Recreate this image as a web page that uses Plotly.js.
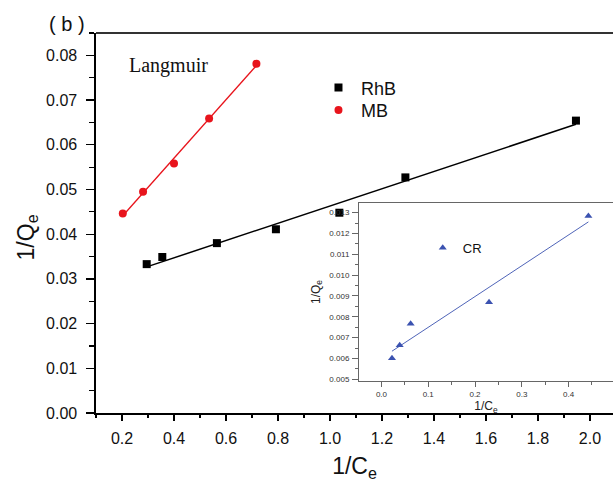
<!DOCTYPE html>
<html>
<head>
<meta charset="utf-8">
<script src="https://cdn.plot.ly/plotly-3.0.1.min.js"></script>
<style>html,body{margin:0;padding:0;background:#fff;}#chart{width:613px;height:482px;}</style>
</head>
<body>
<div id="chart"></div>
<script>
// ---- data ----
const rhbX = [0.295, 0.355, 0.565, 0.792, 1.036, 1.29, 1.946];
const rhbY = [0.0333, 0.0349, 0.0380, 0.0411, 0.0448, 0.0527, 0.0654];
const mbX = [0.203, 0.281, 0.400, 0.535, 0.717];
const mbY = [0.0446, 0.0495, 0.0558, 0.0659, 0.0781];
const crX = [0.0225, 0.039, 0.0624, 0.230, 0.4424];
const crY = [0.00601, 0.00663, 0.00767, 0.00870, 0.01284];
const seriesNames = ["RhB", "MB", "CR"];

// least-squares linear fit over the data range
function fitLine(xs, ys) {
  const n = xs.length;
  const mx = xs.reduce((a, b) => a + b, 0) / n;
  const my = ys.reduce((a, b) => a + b, 0) / n;
  let sxy = 0, sxx = 0;
  for (let i = 0; i < n; i++) { sxy += (xs[i] - mx) * (ys[i] - my); sxx += (xs[i] - mx) ** 2; }
  const k = sxy / sxx, b = my - k * mx;
  const x0 = Math.min(...xs), x1 = Math.max(...xs);
  return { x: [x0, x1], y: [k * x0 + b, k * x1 + b] };
}
const rhbFit = fitLine(rhbX, rhbY);
const mbFit = fitLine(mbX, mbY);
const crFit = fitLine(crX, crY);

const FONT = "Arial, 'Liberation Sans', sans-serif";

const traces = [
  { x: rhbFit.x, y: rhbFit.y, mode: "lines", line: { color: "#000", width: 1.5 }, showlegend: false, hoverinfo: "skip" },
  { x: mbFit.x, y: mbFit.y, mode: "lines", line: { color: "#e8141c", width: 1.3 }, showlegend: false, hoverinfo: "skip" },
  { x: rhbX, y: rhbY, name: seriesNames[0], legend: "legend", mode: "markers", marker: { symbol: "square", size: 8, color: "#000" } },
  { x: mbX, y: mbY, name: seriesNames[1], legend: "legend2", mode: "markers", marker: { symbol: "circle", size: 8, color: "#e8141c" } },
  { x: crFit.x, y: crFit.y, xaxis: "x2", yaxis: "y2", mode: "lines", line: { color: "#3b52b0", width: 0.9 }, showlegend: false, hoverinfo: "skip" },
  { x: crX, y: crY, xaxis: "x2", yaxis: "y2", name: seriesNames[2], legend: "legend3", mode: "markers",
    marker: { symbol: "triangle-up", size: 7, color: "#3b52b0" } }
];

const legendBase = { xanchor: "left", yanchor: "top", bgcolor: "rgba(0,0,0,0)", borderwidth: 0 };

const layout = {
  width: 613, height: 482,
  margin: { l: 96, r: 0, t: 33, b: 69 },
  paper_bgcolor: "#fff", plot_bgcolor: "#fff",
  font: { family: FONT, color: "#111" },
  xaxis: {
    range: [0.1, 2.0885], dtick: 0.2, tick0: 0, tickformat: ".1f",
    showgrid: false, zeroline: false, showline: true, linecolor: "#000", linewidth: 1.6,
    ticks: "outside", ticklen: 6, tickwidth: 1.3, tickcolor: "#000",
    minor: { dtick: 0.1, ticks: "outside", ticklen: 3.5, tickwidth: 1.2, tickcolor: "#000" },
    tickfont: { size: 16, family: FONT, color: "#111" }, ticklabelstandoff: 4,
    title: { text: "1/C<sub>e</sub>", font: { size: 23, family: FONT, color: "#111" }, standoff: 15 },
    automargin: false
  },
  yaxis: {
    range: [0, 0.085], dtick: 0.01, tickformat: ".2f",
    showgrid: false, zeroline: false, showline: true, linecolor: "#000", linewidth: 1.6,
    ticks: "outside", ticklen: 8, tickwidth: 1.3, tickcolor: "#000",
    minor: { dtick: 0.005, ticks: "outside", ticklen: 5, tickwidth: 1.2, tickcolor: "#000" },
    tickfont: { size: 16, family: FONT, color: "#111" }, ticklabelstandoff: 6,
    automargin: false
  },
  xaxis2: {
    domain: [0.5087, 1], anchor: "y2",
    range: [-0.048, 0.495], dtick: 0.1, tick0: 0, tickformat: ".1f",
    showgrid: false, zeroline: false, showline: true, mirror: true, linecolor: "#666", linewidth: 1,
    ticks: "outside", ticklen: 5, tickwidth: 1, tickcolor: "#666",
    minor: { dtick: 0.05, ticks: "outside", ticklen: 3, tickwidth: 1, tickcolor: "#666" },
    tickfont: { size: 8, family: FONT, color: "#333" }, ticklabelstandoff: 1,
    title: { text: "1/C<sub>e</sub>", font: { size: 12, family: FONT, color: "#222" }, standoff: 3 },
    automargin: false
  },
  yaxis2: {
    domain: [0.085, 0.5518], anchor: "x2",
    range: [0.00493, 0.01345], dtick: 0.001, tick0: 0, tickformat: ".3f",
    showgrid: false, zeroline: false, showline: true, linecolor: "#666", linewidth: 1,
    ticks: "outside", ticklen: 6, tickwidth: 1, tickcolor: "#666",
    minor: { dtick: 0.0005, ticks: "outside", ticklen: 3, tickwidth: 1, tickcolor: "#666" },
    tickfont: { size: 8, family: FONT, color: "#333" }, ticklabelstandoff: 1,
    title: { text: "1/Q<sub>e</sub>", font: { size: 12, family: FONT, color: "#222" }, standoff: 6 },
    automargin: false
  },
  legend: Object.assign({}, legendBase, { x: 0.4255, y: 0.9045, itemwidth: 35, font: { size: 18, family: FONT, color: "#111" } }),
  legend2: Object.assign({}, legendBase, { x: 0.4255, y: 0.8455, itemwidth: 35, font: { size: 18, family: FONT, color: "#111" } }),
  legend3: Object.assign({}, legendBase, { x: 0.632, y: 0.4745, font: { size: 13, family: FONT, color: "#111" } }),
  shapes: [
    { type: "line", xref: "paper", yref: "paper", x0: 0, x1: 1, y0: 1, y1: 1, line: { color: "#333", width: 2 } }
  ],
  annotations: [
    { text: "1/Q<sub>e</sub>", xref: "paper", yref: "paper", x: -0.1335, y: 0.462, xanchor: "center", yanchor: "middle",
      textangle: -90, showarrow: false, font: { family: FONT, size: 23, color: "#111" } },
    { text: "Langmuir", xref: "paper", yref: "paper", x: 0.1402, y: 0.914, xanchor: "center", yanchor: "middle",
      showarrow: false, font: { family: "'Liberation Serif', 'Times New Roman', serif", size: 20, color: "#111" } },
    { text: "( b )", xref: "paper", yref: "paper", x: -0.057, y: 1.0237, xanchor: "center", yanchor: "middle",
      showarrow: false, font: { family: FONT, size: 20, color: "#111" } }
  ],
  showlegend: true
};

Plotly.newPlot("chart", traces, layout, { displayModeBar: false, staticPlot: true });
</script>
</body>
</html>
